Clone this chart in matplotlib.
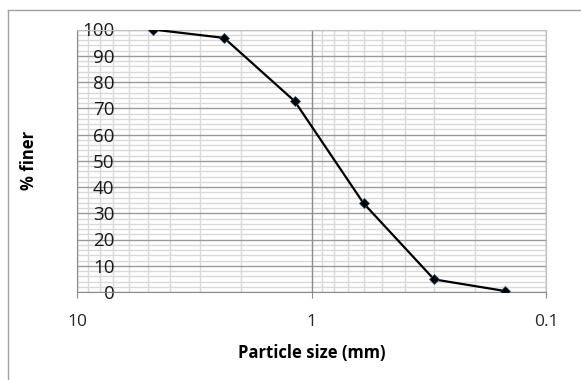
import matplotlib
matplotlib.use("Agg")
import matplotlib.pyplot as plt
from matplotlib.lines import Line2D
from matplotlib.ticker import LogLocator, MultipleLocator, FixedLocator, FixedFormatter, NullFormatter

# sieve sizes (mm) and percent passing
particle_size = [4.75, 2.36, 1.18, 0.6, 0.3, 0.15]
pct_finer = [100, 96.8, 72.7, 33.8, 4.8, 0.4]

x_ticks = [10, 1, 0.1]
x_labels = ["10", "1", "0.1"]
y_ticks = [0, 10, 20, 30, 40, 50, 60, 70, 80, 90, 100]

plt.rcParams["font.family"] = ["Open Sans", "DejaVu Sans"]

W, H = 581, 380
fig = plt.figure(figsize=(W / 100, H / 100), dpi=100)
ax = fig.add_axes([77 / W, 1 - 292 / H, (546 - 77) / W, (292 - 29.5) / H])

ax.set_xscale("log")
ax.set_xlim(10, 0.1)
ax.set_ylim(0, 100)

ax.xaxis.set_major_locator(FixedLocator(x_ticks))
ax.xaxis.set_major_formatter(FixedFormatter(x_labels))
ax.xaxis.set_minor_locator(LogLocator(base=10, subs=range(2, 10)))
ax.xaxis.set_minor_formatter(NullFormatter())
ax.yaxis.set_major_locator(FixedLocator(y_ticks))
ax.yaxis.set_minor_locator(MultipleLocator(2))

# grid drawn by hand so the tick labels (axis zorder 0.5) sit on top
for yv in ax.yaxis.get_minorticklocs():
    ax.axhline(yv, color="#d9d9d9", linewidth=1.0, zorder=0.2)
for xv in ax.xaxis.get_minorticklocs():
    ax.axvline(xv, color="#d9d9d9", linewidth=1.0, zorder=0.2)
for yv in y_ticks:
    ax.axhline(yv, color="#9a9a9a", linewidth=1.0, zorder=0.3)
for xv in x_ticks:
    ax.axvline(xv, color="#8c8c8c", linewidth=1.0, zorder=0.3)
ax.set_axisbelow(True)

for s in ["top", "right"]:
    ax.spines[s].set_color("#bfbfbf")
for s in ["left", "bottom"]:
    ax.spines[s].set_color("#8c8c8c")

ax.plot(particle_size, pct_finer, color="black", linewidth=1.6,
        marker="D", markersize=5.5, markerfacecolor="black",
        markeredgecolor="#1f4e79", markeredgewidth=0.5, zorder=5)

ax.tick_params(axis="x", which="major", length=4, color="#8c8c8c",
               labelsize=12.5, pad=12, labelcolor="#262626")
ax.tick_params(axis="x", which="minor", length=0)
ax.tick_params(axis="y", which="both", length=0, labelsize=13.5,
               labelcolor="#1a1a1a", pad=-27)
for lbl in ax.get_yticklabels():
    lbl.set_horizontalalignment("right")

ax.set_xlabel("Particle size (mm)", fontsize=12, fontweight="bold", labelpad=10)
ax.set_ylabel("% finer", fontsize=12, fontweight="bold", labelpad=28)

# outer chart border (top and left only visible)
fig.add_artist(Line2D([8 / W, 1], [1 - 10 / H, 1 - 10 / H], color="#a0a0a0", linewidth=1))
fig.add_artist(Line2D([8 / W, 8 / W], [0, 1 - 10 / H], color="#a0a0a0", linewidth=1))

fig.savefig("out.png", dpi=100)
